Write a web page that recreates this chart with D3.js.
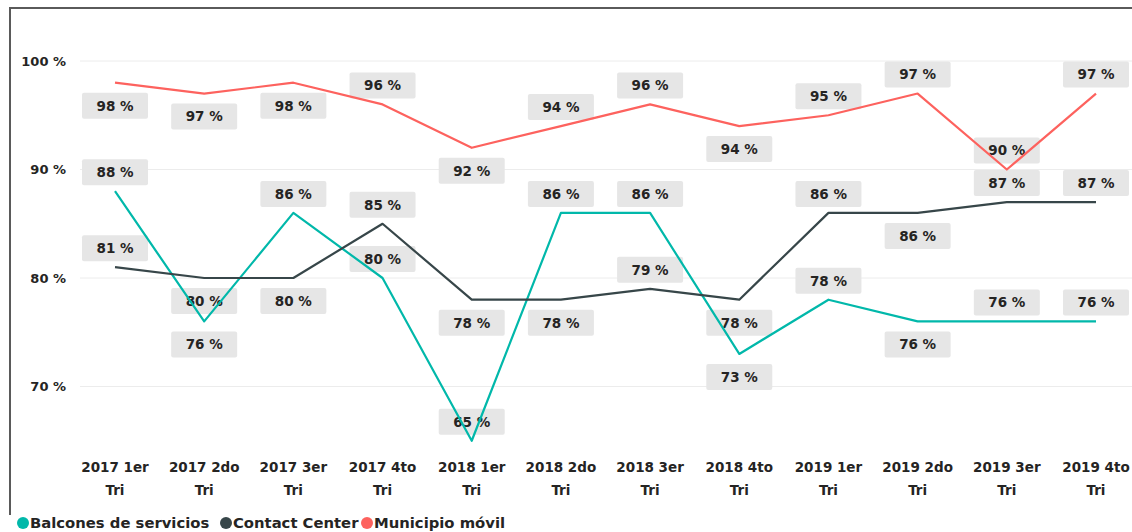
<!DOCTYPE html>
<html>
<head>
<meta charset="utf-8">
<script src="https://cdn.jsdelivr.net/npm/d3@7"></script>
<style>
  html, body { margin: 0; padding: 0; background: #fff; }
  svg { display: block; font-family: "DejaVu Sans", Verdana, sans-serif; font-weight: bold; }
</style>
</head>
<body>
<svg id="chart" width="1132" height="532"></svg>
<script>
const categories = ["2017 1er Tri","2017 2do Tri","2017 3er Tri","2017 4to Tri","2018 1er Tri","2018 2do Tri","2018 3er Tri","2018 4to Tri","2019 1er Tri","2019 2do Tri","2019 3er Tri","2019 4to Tri"];
const seriesNames = ["Balcones de servicios","Contact Center","Municipio móvil"];
const balcones = [88,76,86,80,65,86,86,73,78,76,76,76];
const contactCenter = [81,80,80,85,78,78,79,78,86,86,87,87];
const municipio = [98,97,98,96,92,94,96,94,95,97,90,97];
// label placement: 1 = above point, -1 = below point
const balconesPos = [1,-1,1,1,1,1,1,-1,1,-1,1,1];
const contactPos = [1,-1,-1,1,-1,-1,1,-1,1,-1,1,1];
const municipioPos = [-1,-1,-1,1,-1,1,1,-1,1,1,1,1];
const yTicks = [70,80,90,100];
const colors = ["#01B8AA","#374649","#FD625E"];

const series = [
  {name: seriesNames[0], values: balcones, pos: balconesPos, color: colors[0]},
  {name: seriesNames[1], values: contactCenter, pos: contactPos, color: colors[1]},
  {name: seriesNames[2], values: municipio, pos: municipioPos, color: colors[2]}
];

const svg = d3.select("#chart");
const x = d3.scalePoint().domain(categories).range([115, 1096]);
const y = d3.scaleLinear().domain([70, 100]).range([386.5, 61]);

// frame
svg.append("path").attr("d", "M10,515 L10,8 L1132,8")
  .attr("fill", "none").attr("stroke", "#5a5a5a").attr("stroke-width", 2);

// gridlines
svg.append("g").selectAll("line").data(yTicks).join("line")
  .attr("x1", 80).attr("x2", 1132)
  .attr("y1", d => y(d)).attr("y2", d => y(d))
  .attr("stroke", "#ececec").attr("stroke-width", 1);

// y axis labels
svg.append("g").selectAll("text").data(yTicks).join("text")
  .attr("x", 66).attr("y", d => y(d)).attr("dy", "0.35em")
  .attr("text-anchor", "end").attr("font-size", 13).attr("fill", "#252423")
  .text(d => d + " %");

// x axis labels
const xl = svg.append("g").selectAll("text").data(categories).join("text")
  .attr("x", d => x(d)).attr("y", 472)
  .attr("text-anchor", "middle").attr("font-size", 13.5).attr("fill", "#252423");
xl.each(function(d) {
  const parts = d.split(" ");
  const t = d3.select(this);
  t.append("tspan").attr("x", x(d)).attr("dy", 0).text(parts[0] + " " + parts[1]);
  t.append("tspan").attr("x", x(d)).attr("dy", 23).text(parts[2]);
});

// data labels (drawn beneath the lines)
const labels = [];
series.forEach(s => s.values.forEach((v, i) => labels.push({v, i, pos: s.pos[i]})));
const lg = svg.append("g").selectAll("g").data(labels).join("g")
  .attr("transform", d => `translate(${x(categories[d.i])},${y(d.v) + (d.pos > 0 ? -19 : 23)})`);
lg.append("rect").attr("x", -33).attr("y", -13).attr("width", 66).attr("height", 26)
  .attr("rx", 2).attr("fill", "#e6e6e6");
lg.append("text").attr("text-anchor", "middle").attr("dy", "0.36em")
  .attr("font-size", 13.5).attr("fill", "#252423")
  .text(d => d.v + " %");

// lines
const line = d3.line().x((d, i) => x(categories[i])).y(d => y(d));
svg.append("g").selectAll("path").data(series).join("path")
  .attr("d", d => line(d.values))
  .attr("fill", "none").attr("stroke", d => d.color).attr("stroke-width", 2.2)
  .attr("stroke-linejoin", "round");

// legend
const legendX = [23, 226, 367];
const leg = svg.append("g").selectAll("g").data(series).join("g")
  .attr("transform", (d, i) => `translate(${legendX[i]},523)`);
leg.append("circle").attr("r", 6).attr("fill", d => d.color);
leg.append("text").attr("x", 7).attr("dy", "0.35em").attr("font-size", 14.8)
  .attr("fill", "#252423").text(d => d.name);
</script>
</body>
</html>
